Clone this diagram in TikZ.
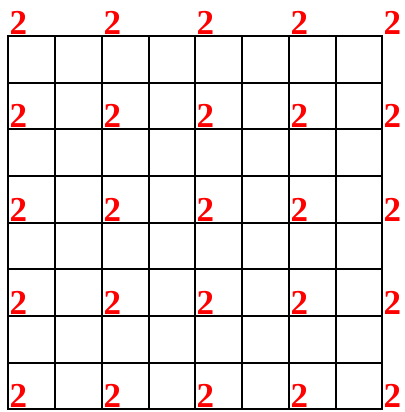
\documentclass[tikz,border=0pt]{standalone}
\usepackage{fontspec}
\setmainfont{Liberation Serif}
\begin{document}
\begin{tikzpicture}[x=1pt,y=-1pt,
  gridline/.style={line width=1.8pt,black,line cap=rect},
  twolabel/.style={anchor=base west,inner sep=0pt,xshift=1.5pt,yshift=1.5pt,text=red,font=\fontsize{35}{35}\selectfont\bfseries}]
\useasboundingbox (0,0) rectangle (404,412);
\foreach \p in {8,55,102,149,195,242,289,336,382}{
  \draw[gridline] (\p,36) -- (\p,409);
}
\foreach \p in {36,83,129,176,223,269,316,363,409}{
  \draw[gridline] (8,\p) -- (382,\p);
}
\foreach \i/\x in {0/8,2/102,4/195,6/289,8/382}{
  \foreach \j/\y in {0/36,2/129,4/223,6/316,8/409}{
    \node[twolabel] (l\i\j) at (\x,\y) {2};
  }
}
\end{tikzpicture}
\end{document}
